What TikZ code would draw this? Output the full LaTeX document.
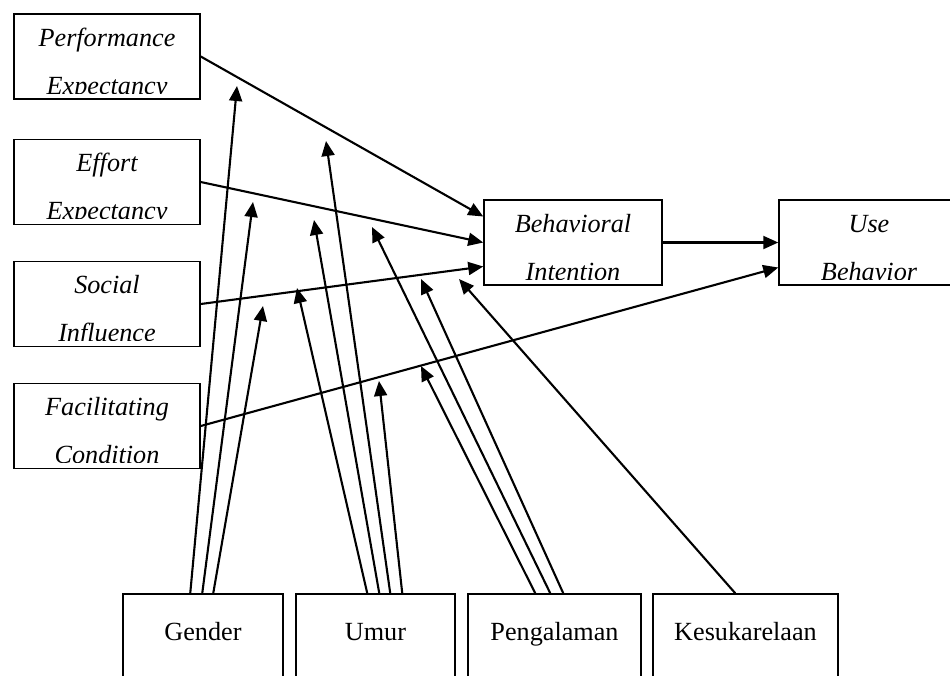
\documentclass[tikz,border=0pt]{standalone}
\usepackage{fontspec}
\setmainfont{Liberation Serif}
\usetikzlibrary{arrows.meta}
\tikzset{
    every node/.style={font=\fontsize{26.2}{31}\selectfont},
    construct/.style={draw, line width=1.5pt, minimum width=186pt, minimum height=85pt, inner sep=0pt},
    moderator/.style={draw, line width=1.5pt, minimum height=88pt, text height=0.7em, text depth=0.25em, inner sep=0pt},
    boxtext/.style={font=\fontsize{26.2}{31}\selectfont\itshape, anchor=base, inner sep=0pt}
}

\begin{document}
\begin{tikzpicture}[
            x = 1pt, y = -1pt, % one unit per pixel, y pointing down
            > = {Triangle[length=15pt, width=13pt]}, % arrow head style
            line width = 2.1pt % line style
        ]
        \useasboundingbox (0,0) rectangle (950,675);
        \clip (0,0) rectangle (950,675);

        % constructs
        \node[construct] (pe) at (107,56.5) {};
        \node[construct] (ee) at (107,182) {};
        \node[construct] (si) at (107,304) {};
        \node[construct] (fc) at (107,426) {};
        \node[construct, minimum width=178pt] (bi) at (573,242.5) {};
        \node[construct, minimum width=180pt] (ub) at (869,242.5) {};

        % two line labels, cut at the foot of the box
        \foreach \n/\a/\b in {pe/Performance/Expectancy, ee/Effort/Expectancy,
                si/Social/Influence, fc/Facilitating/Condition,
                bi/Behavioral/Intention, ub/Use/Behavior}{
            \begin{scope}
                \clip ([yshift=-80pt]\n.north west) rectangle (\n.north east);
                \node[boxtext] (\n-a) at ([yshift=-33pt]\n.north) {\a};
                \node[boxtext] (\n-b) at ([yshift=-81pt]\n.north) {\b};
            \end{scope}
        }

        % moderators
        \node[moderator, minimum width=160pt] (gender) at (203,638) {Gender};
        \node[moderator, minimum width=159pt] (umur) at (375.5,638) {Umur};
        \node[moderator, minimum width=173pt] (peng) at (554.5,638) {Pengalaman};
        \node[moderator, minimum width=185pt] (kesuk) at (745.5,638) {Kesukarelaan};

        % arrow tips of the moderating effects
        \coordinate (g1) at (237,86);
        \coordinate (g2) at (253,202);
        \coordinate (g3) at (263,306);
        \coordinate (u1) at (297,288);
        \coordinate (u2) at (314,220);
        \coordinate (u3) at (326,141);
        \coordinate (u4) at (379,381);
        \coordinate (p1) at (421,366);
        \coordinate (p2) at (372,227);
        \coordinate (p3) at (421,279);
        \coordinate (k1) at (459,279);

        \path[->] (pe.east) edge ([yshift=26pt]bi.west);
        \path[->] (ee.east) edge (bi.west);
        \path[->] (si.east) edge ([yshift=-24pt]bi.west);
        \path[->] (bi.east) edge (ub.west);
        \path[->] (fc.east) edge ([yshift=-25pt]ub.west);

        \path[->] ([xshift=68pt]gender.north west) edge (g1);
        \path[->] ([xshift=80pt]gender.north west) edge (g2);
        \path[->] ([xshift=91pt]gender.north west) edge (g3);

        \path[->] ([xshift=72pt]umur.north west) edge (u1);
        \path[->] ([xshift=84pt]umur.north west) edge (u2);
        \path[->] ([xshift=95pt]umur.north west) edge (u3);
        \path[->] ([xshift=107pt]umur.north west) edge (u4);

        \path[->] ([xshift=68pt]peng.north west) edge (p1);
        \path[->] ([xshift=83pt]peng.north west) edge (p2);
        \path[->] ([xshift=96pt]peng.north west) edge (p3);

        \path[->] ([xshift=83pt]kesuk.north west) edge (k1);

  \end{tikzpicture}
\end{document}
